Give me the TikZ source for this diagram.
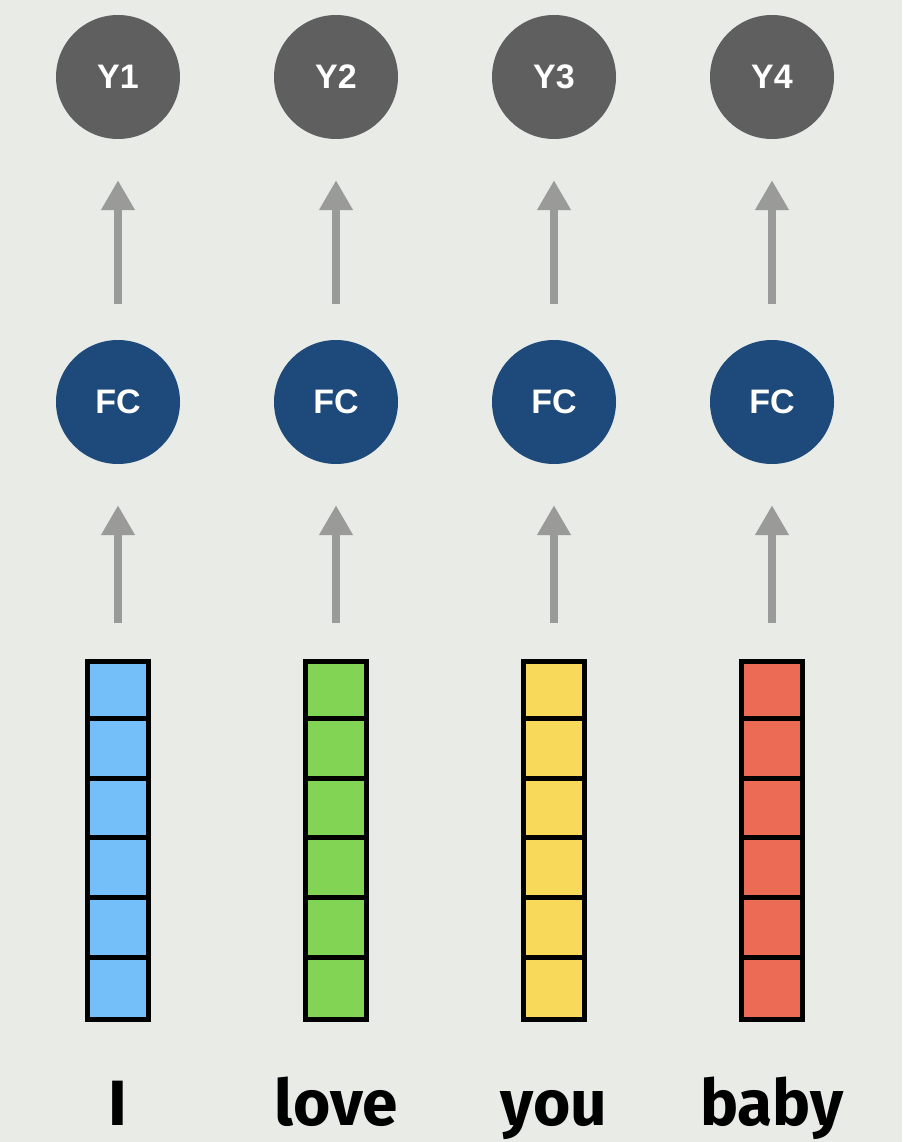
\documentclass[tikz,border=0pt]{standalone}
\usepackage{fontspec}
\setmainfont{Liberation Sans}
\newfontfamily\wordfont{Fira Sans}
\usetikzlibrary{arrows.meta}
\definecolor{bg}{HTML}{E8EBE6}
\definecolor{ycol}{HTML}{5F5F5F}
\definecolor{fccol}{HTML}{1D4A7A}
\definecolor{arr}{HTML}{9A9B98}
\definecolor{cblue}{HTML}{74BEF9}
\definecolor{cgreen}{HTML}{82D455}
\definecolor{cyellow}{HTML}{F9D95A}
\definecolor{cred}{HTML}{EC6B55}
\tikzset{
  ynode/.style={circle, fill=ycol, minimum size=124pt, inner sep=0pt, text=white, font=\bfseries\fontsize{34}{34}\selectfont},
  fcnode/.style={circle, fill=fccol, minimum size=124pt, inner sep=0pt, text=white, font=\bfseries\fontsize{34}{34}\selectfont},
  barnode/.style={rectangle, draw=black, line width=5pt, minimum width=61pt, minimum height=358pt, inner sep=0pt},
  wordnode/.style={font=\wordfont\bfseries\fontsize{64}{64}\selectfont, text=black, anchor=base},
  uparrow/.style={draw=arr, line width=8pt, -{Triangle[width=32pt,length=30pt]}},
}
\begin{document}
\begin{tikzpicture}[x=1pt,y=-1pt]
\fill[bg] (0,0) rectangle (902,1142);
\useasboundingbox (0,0) rectangle (902,1142);
\foreach \i/\x/\c/\w in {1/118/cblue/I,2/336/cgreen/love,3/554/cyellow/you,4/772/cred/baby}{
  \node[ynode] (y\i) at (\x,77) {Y\i};
  \node[fcnode] (fc\i) at (\x,402) {FC};
  \node[barnode, fill=\c] (b\i) at (\x,840.5) {};
  \foreach \k in {1,...,5}{
    \draw[black, line width=5pt] ([yshift=-\k*59.6pt]b\i.north west) -- ([yshift=-\k*59.6pt]b\i.north east);
  }
  \node[wordnode] (w\i) at (\x,1125) {\w};
  \draw[uparrow, shorten <=36pt, shorten >=41pt] (b\i.north) -- (fc\i.south);
  \draw[uparrow, shorten <=36pt, shorten >=41pt] (fc\i.north) -- (y\i.south);
}
\end{tikzpicture}
\end{document}
